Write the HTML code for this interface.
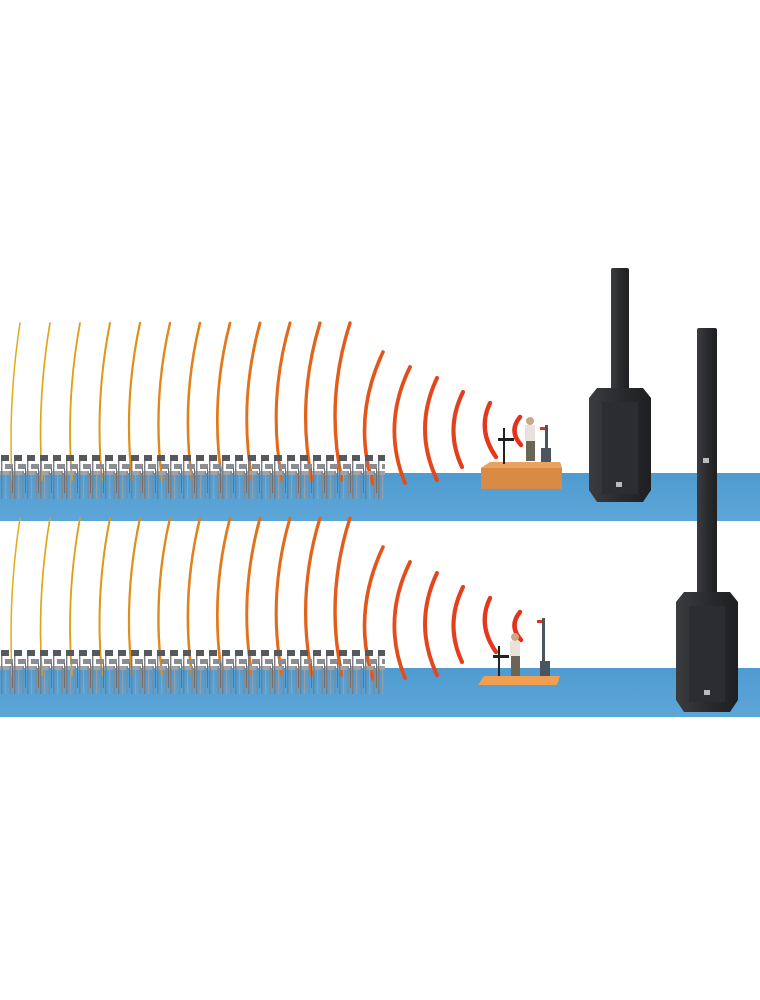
<!DOCTYPE html>
<html><head><meta charset="utf-8"><style>
html,body{margin:0;padding:0;background:#fff;width:760px;height:1000px;overflow:hidden}
svg{display:block}
</style></head><body>
<svg id="s" width="760" height="1000" viewBox="0 0 760 1000" xmlns="http://www.w3.org/2000/svg">
<defs>
<g id="ch">
<rect x="1" y="0" width="8" height="6" fill="#55585d"/>
<rect x="5" y="9" width="8" height="5" fill="#8a8d92"/>
<rect x="0" y="16" width="11" height="4" fill="#a0a3a8"/>
<rect x="1" y="6" width="1.4" height="38" fill="#7a7d82"/>
<rect x="9.5" y="16" width="1.4" height="28" fill="#85888d"/>
<rect x="5" y="20" width="1.2" height="24" fill="#9a9da2"/>
<rect x="12" y="13" width="1" height="25" fill="#6d7075"/>
</g>
<pattern id="chairs1" x="0" y="455" width="13" height="46" patternUnits="userSpaceOnUse"><use href="#ch"/></pattern>
<pattern id="chairs2" x="0" y="650" width="13" height="46" patternUnits="userSpaceOnUse"><use href="#ch"/></pattern>
<linearGradient id="spk" x1="0" x2="1"><stop offset="0" stop-color="#3a3c3f"/><stop offset="0.5" stop-color="#2a2b2e"/><stop offset="1" stop-color="#1e1f21"/></linearGradient>
<linearGradient id="flr" x1="0" y1="0" x2="0" y2="1"><stop offset="0" stop-color="#4f9bd0"/><stop offset="1" stop-color="#5da6d8"/></linearGradient>
</defs>
<rect x="0" y="473" width="760" height="48" fill="url(#flr)"/>
<rect x="0" y="668" width="760" height="49" fill="url(#flr)"/>
<g id="arcs"></g>
<rect x="0" y="455" width="385" height="46" fill="url(#chairs1)"/>
<rect x="0" y="650" width="385" height="46" fill="url(#chairs2)"/>
<!-- stage 1 -->
<polygon points="481,468 490,462 560,462 562,468 562,489 481,489" fill="#d98a45"/>
<polygon points="481,468 490,462 560,462 562,468" fill="#e9a260"/>
<rect x="503" y="428" width="2" height="36" fill="#222"/>
<rect x="498" y="438" width="16" height="3" fill="#222"/>
<circle cx="530" cy="421" r="4" fill="#c9a88a"/>
<rect x="525" y="425" width="10" height="16" fill="#e8e2d8"/>
<rect x="526" y="441" width="9" height="20" fill="#6b6555"/>
<rect x="545" y="425" width="3" height="25" fill="#4a5560"/>
<rect x="541" y="448" width="10" height="14" fill="#4a5560"/>
<rect x="540" y="427" width="5" height="3" fill="#e0301e"/>
<!-- stage 2 -->
<polygon points="478,685 484,676 560,676 557,685" fill="#f0a050"/>
<rect x="498" y="646" width="2" height="30" fill="#222"/>
<rect x="493" y="655" width="16" height="3" fill="#222"/>
<circle cx="515" cy="637" r="4" fill="#c9a88a"/>
<rect x="510" y="641" width="10" height="15" fill="#e8e2d8"/>
<rect x="511" y="656" width="9" height="20" fill="#6b6555"/>
<rect x="542" y="618" width="3" height="45" fill="#4a5560"/>
<rect x="540" y="661" width="10" height="15" fill="#4a5560"/>
<rect x="537" y="620" width="5" height="3" fill="#e0301e"/>
<!-- speaker 1 -->
<rect x="611" y="268" width="18" height="126" rx="2" fill="url(#spk)"/>
<polygon points="597,388 643,388 651,398 651,490 643,502 597,502 589,490 589,398" fill="url(#spk)"/>
<rect x="602" y="402" width="36" height="92" fill="#2c2d30"/>
<rect x="616" y="482" width="6" height="5" fill="#bbb"/>
<!-- speaker 2 -->
<rect x="697" y="328" width="20" height="272" rx="2" fill="url(#spk)"/>
<rect x="703" y="458" width="6" height="5" fill="#bbb"/>
<polygon points="684,592 730,592 738,602 738,700 730,712 684,712 676,700 676,602" fill="url(#spk)"/>
<rect x="689" y="606" width="36" height="96" fill="#2c2d30"/>
<rect x="704" y="690" width="6" height="5" fill="#bbb"/>
</svg>
<script>
(function(){
var g=document.getElementById('arcs');var ns='http://www.w3.org/2000/svg';
var A=[];
for(var i=0;i<12;i++){A.push([20+30*i,323,12+30*i,480,4+i*0.6]);}
A.push([383,352,373,484,13]);
A.push([410,367,405,483,13]);
A.push([437,378,437,480,12]);
A.push([463,392,462,467,9]);
A.push([490,403,496,457,8]);
A.push([520,417,521,445,6]);
function scene(dy){
 for(var k=0;k<A.length;k++){
  var a=A[k],t=1-k/(A.length-1);
  var mx=(a[0]+a[2])/2-2*a[4],my=(a[1]+a[3])/2+dy;
  var p=document.createElementNS(ns,'path');
  p.setAttribute('d','M'+a[0]+','+(a[1]+dy)+' Q'+mx+','+my+' '+a[2]+','+(a[3]+dy));
  var R=Math.round(228-t*6),G=Math.round(48+t*125),B=Math.round(28-t*4);
  p.setAttribute('stroke','rgb('+R+','+G+','+B+')');
  p.setAttribute('stroke-width',(4.5-t*3).toFixed(2));
  p.setAttribute('fill','none');p.setAttribute('stroke-linecap','round');
  g.appendChild(p);
 }
}
scene(0);
scene(195);
})();
</script>
</body></html>
